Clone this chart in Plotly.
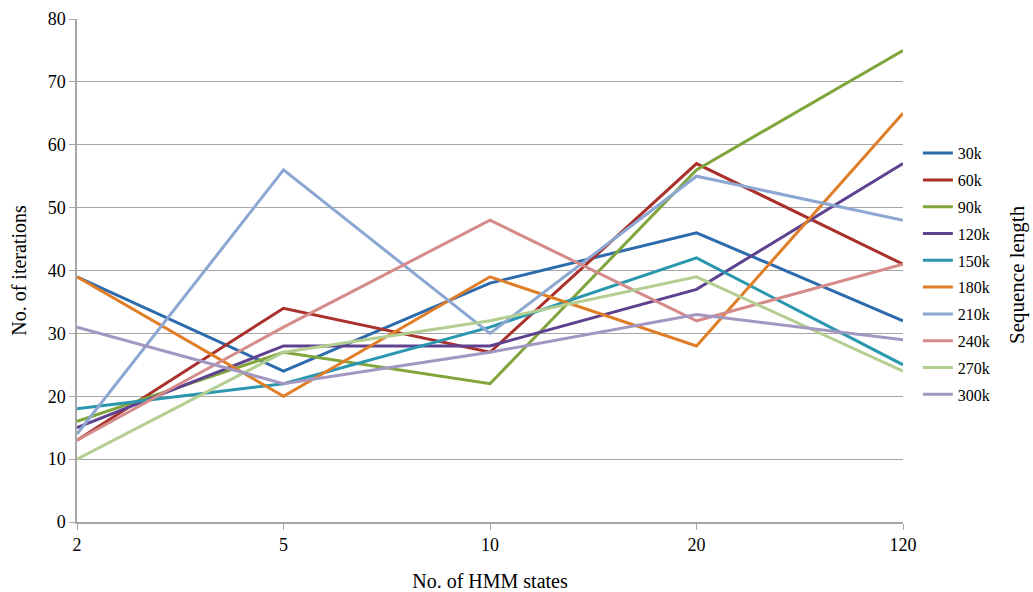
import plotly.graph_objects as go

# HMM state counts on the x axis (categorical)
states = ["2", "5", "10", "20", "120"]

# Iterations needed per sequence length
seq_labels = ["30k", "60k", "90k", "120k", "150k", "180k", "210k", "240k", "270k", "300k"]
it_30k = [39, 24, 38, 46, 32]
it_60k = [13, 34, 27, 57, 41]
it_90k = [16, 27, 22, 56, 75]
it_120k = [15, 28, 28, 37, 57]
it_150k = [18, 22, 31, 42, 25]
it_180k = [39, 20, 39, 28, 65]
it_210k = [14, 56, 30, 55, 48]
it_240k = [13, 31, 48, 32, 41]
it_270k = [10, 27, 32, 39, 24]
it_300k = [31, 22, 27, 33, 29]

series = [it_30k, it_60k, it_90k, it_120k, it_150k,
          it_180k, it_210k, it_240k, it_270k, it_300k]
colors = ["#2C6BAC", "#A9302B", "#80A53B", "#5E4290", "#2A97AF",
          "#E07E27", "#8BA7D2", "#D48B89", "#B4CE91", "#A397C2"]

fig = go.Figure()
for i, (name, vals, col) in enumerate(zip(seq_labels, series, colors)):
    fig.add_trace(go.Scatter(
        x=states, y=vals, name=name, mode="lines",
        line=dict(color=col, width=3),
        legendgroup=f"g{i}",
    ))

SERIF = "Liberation Serif"
axis_grey = "#A6A6A6"

fig.update_layout(
    width=1033, height=592,
    margin=dict(l=77, r=130, t=19, b=70, autoexpand=False),
    paper_bgcolor="white", plot_bgcolor="white",
    font=dict(family=SERIF, size=18, color="black"),
    showlegend=True,
    legend=dict(
        x=1.018, xanchor="left", y=0.767, yanchor="top",
        font=dict(family=SERIF, size=16, color="black"),
        traceorder="grouped", tracegroupgap=3,
        itemwidth=30, bgcolor="rgba(0,0,0,0)",
    ),
    xaxis=dict(
        type="category", range=[0, 4], automargin=False,
        showgrid=False, showline=True, linecolor=axis_grey, linewidth=1.5,
        ticks="outside", ticklen=6, tickcolor=axis_grey,
        tickfont=dict(family=SERIF, size=18, color="black"),
        title=dict(text="No. of HMM states",
                   font=dict(family=SERIF, size=20, color="black"), standoff=26),
        zeroline=False,
    ),
    yaxis=dict(
        range=[0, 80], dtick=10, automargin=False,
        showgrid=True, gridcolor=axis_grey, gridwidth=1,
        showline=True, linecolor=axis_grey, linewidth=1.5,
        ticks="outside", ticklen=6, tickcolor=axis_grey,
        tickfont=dict(family=SERIF, size=18, color="black"),
        title=dict(text="No. of iterations",
                   font=dict(family=SERIF, size=20, color="black"), standoff=16),
        zeroline=False,
    ),
    annotations=[dict(
        text="Sequence length", textangle=-90,
        xref="paper", yref="paper", x=1.138, y=0.493,
        xanchor="center", yanchor="middle", showarrow=False,
        font=dict(family=SERIF, size=21, color="black"),
    )],
)

fig.write_html("out.html")
